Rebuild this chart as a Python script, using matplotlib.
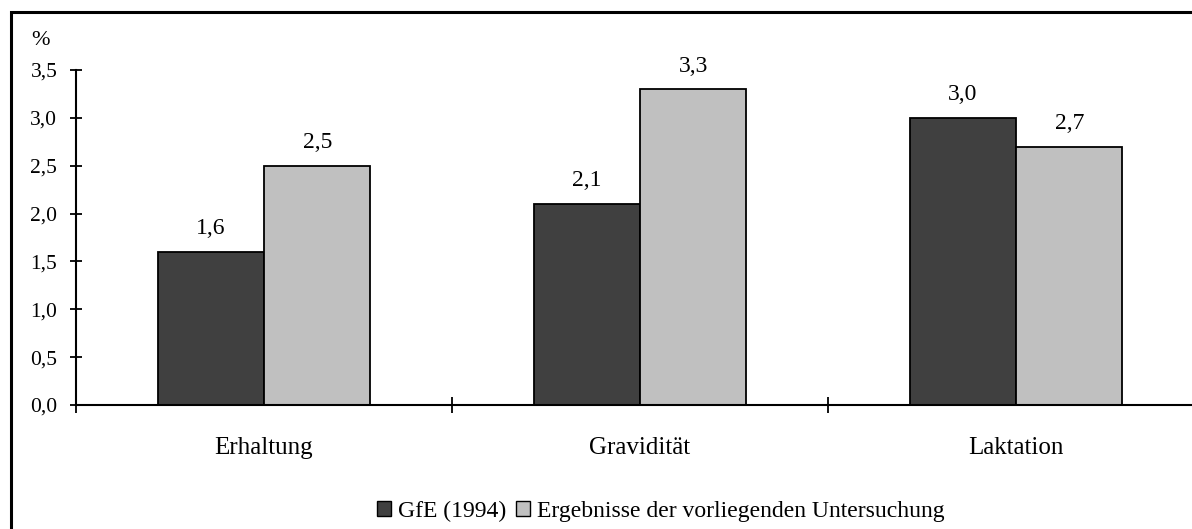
import matplotlib
matplotlib.use("Agg")
import matplotlib.pyplot as plt
from matplotlib.patches import Rectangle, Patch
import numpy as np

categories = ["Erhaltung", "Gravidität", "Laktation"]
series_names = ["GfE (1994)", "Ergebnisse der vorliegenden Untersuchung"]
gfe = [1.6, 2.1, 3.0]
eigene = [2.5, 3.3, 2.7]
yticks = [0.0, 0.5, 1.0, 1.5, 2.0, 2.5, 3.0, 3.5]
colors = ["#404040", "#c0c0c0"]

plt.rcParams['font.family'] = ['Liberation Serif', 'DejaVu Serif']

W, H = 1192, 529
fig = plt.figure(figsize=(W/100, H/100), dpi=100)
ax = fig.add_axes([76/W, 1-405/H, 1128/W, 335/H])

x = np.arange(len(categories))
bw = 0.283
b1 = ax.bar(x - bw/2, gfe, bw, color=colors[0], edgecolor='black', linewidth=1.3)
b2 = ax.bar(x + bw/2, eigene, bw, color=colors[1], edgecolor='black', linewidth=1.3)

def fmt(v):
    return f"{v:.1f}".replace('.', ',')

for bars, vals in ((b1, gfe), (b2, eigene)):
    for rect, v in zip(bars, vals):
        ax.annotate(fmt(v), (rect.get_x() + rect.get_width()/2, v),
                    xytext=(0, 9), textcoords='offset points',
                    ha='center', va='bottom', fontsize=17)

ax.set_xlim(-0.5, 2.5)
ax.set_ylim(0, 3.5)
ax.set_yticks(yticks)
ax.set_yticklabels([fmt(v) for v in yticks], fontsize=15.5)
ax.set_xticks([-0.5, 0.5, 1.5])
ax.set_xticklabels([])
ax.set_xticks(x, minor=True)
ax.set_xticklabels(categories, minor=True, fontsize=18)
ax.tick_params(axis='y', direction='inout', length=9, width=1.3, pad=9)
ax.tick_params(axis='x', which='major', direction='inout', length=11, width=1.3)
ax.tick_params(axis='x', which='minor', length=0, pad=23)
for s in ('top', 'right'):
    ax.spines[s].set_visible(False)
for s in ('left', 'bottom'):
    ax.spines[s].set_linewidth(1.5)

fig.text(40/W, 1-40/H, "%", fontsize=16, ha='center', va='center')

handles = [Patch(facecolor=c, edgecolor='black', linewidth=1.0) for c in colors]
fig.legend(handles, series_names, loc='center', bbox_to_anchor=(661/W, 1-511/H),
           ncol=2, frameon=False, fontsize=17, handlelength=0.6, handleheight=0.6,
           handletextpad=0.3, columnspacing=0.4)

# outer border (right/bottom cut off in original)
fig.patches.append(Rectangle((10.5/W, -0.1), 1.2, (1-12/H) + 0.1, transform=fig.transFigure,
                             fill=False, edgecolor='black', linewidth=2.2))

fig.savefig("out.png", dpi=100)
